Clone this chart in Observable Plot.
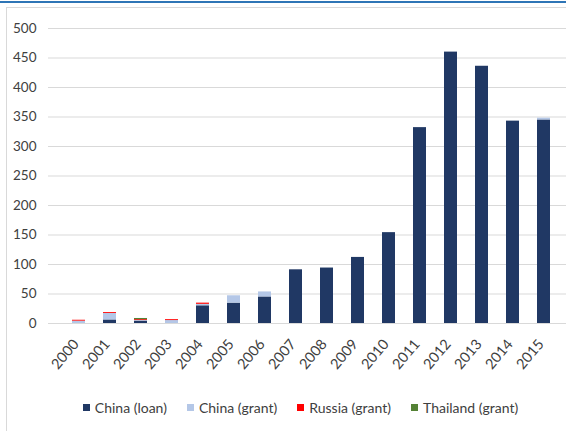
<!DOCTYPE html>
<html>
<head>
<meta charset="utf-8">
<script src="https://cdn.jsdelivr.net/npm/d3@7"></script>
<script src="https://cdn.jsdelivr.net/npm/@observablehq/plot@0.6"></script>
<style>
  html, body { margin: 0; padding: 0; background: #fff; }
  #wrap { position: relative; width: 566px; height: 431px; overflow: hidden; font-family: Lato, "Open Sans", sans-serif; }
  #topline { position: absolute; left: 0; top: 1px; width: 566px; height: 2px; background: #2e75b6; }
  #frame { position: absolute; left: 6px; top: 7px; width: 600px; height: 500px; border-left: 1px solid #d9d9d9; border-top: 1px solid #d9d9d9; }
  #chart { position: absolute; left: 0; top: 0; }
  #legend { position: absolute; left: 0; top: 399px; width: 601px; display: flex; justify-content: center; font-size: 14px; color: #404040; }
  .item { display: flex; align-items: center; margin: 0 10px; }
  .sw { width: 7px; height: 7px; margin-right: 5px; }
</style>
</head>
<body>
<div id="wrap">
  <div id="topline"></div>
  <div id="frame"></div>
  <div id="chart"></div>
  <div id="legend"></div>
</div>
<script>
// Annual financing by source (stacked), 2000–2015
const years = ["2000","2001","2002","2003","2004","2005","2006","2007","2008","2009","2010","2011","2012","2013","2014","2015"];
const series = ["China (loan)", "China (grant)", "Russia (grant)", "Thailand (grant)"];
const colors = ["#203864", "#b4c7e7", "#ff0000", "#548235"];

const chinaLoan     = [0, 6, 4, 0, 30, 34.5, 45, 91, 94, 112, 154, 332, 460, 436, 343, 345];
const chinaGrant    = [4, 11, 1, 5, 2.5, 12.5, 8.5, 0, 0, 0, 0, 0, 0, 0, 0, 3];
const russiaGrant   = [1.5, 1.5, 1.5, 1.5, 2, 0, 0, 0, 0, 0, 0, 0, 0, 0, 0, 0];
const thailandGrant = [0, 0, 2, 0, 0, 0, 0, 0, 0, 0, 0, 0, 0, 0, 0, 0];

const yTicks = [0, 50, 100, 150, 200, 250, 300, 350, 400, 450, 500];

const valuesBySeries = [chinaLoan, chinaGrant, russiaGrant, thailandGrant];
const rows = [];
series.forEach((s, i) => {
  years.forEach((y, j) => rows.push({year: y, series: s, value: valuesBySeries[i][j]}));
});

const chart = Plot.plot({
  width: 566,
  height: 392,
  marginLeft: 48,
  marginRight: 0,
  marginTop: 28,
  marginBottom: 69,
  style: { fontFamily: "Lato, 'Open Sans', sans-serif", fontSize: "13px", color: "#404040", background: "transparent" },
  x: { domain: years, range: [53, 570], padding: 0.58 },
  y: { domain: [0, 500] },
  color: { domain: series, range: colors },
  marks: [
    Plot.ruleY(yTicks, { stroke: "#d9d9d9", strokeWidth: 1 }),
    Plot.barY(rows, { x: "year", y: "value", fill: "series", order: series }),
    Plot.axisY({ ticks: yTicks, label: null, tickSize: 0, tickPadding: 12, fontSize: 13.5 }),
    Plot.axisX({ label: null, tickSize: 0, tickPadding: 18, tickRotate: -50, fontSize: 14.5, dx: -3 })
  ]
});
document.getElementById("chart").appendChild(chart);

// Legend below the plot
const legend = document.getElementById("legend");
series.forEach((s, i) => {
  const item = document.createElement("div");
  item.className = "item";
  const sw = document.createElement("span");
  sw.className = "sw";
  sw.style.background = colors[i];
  const label = document.createElement("span");
  label.textContent = s;
  item.appendChild(sw);
  item.appendChild(label);
  legend.appendChild(item);
});
</script>
</body>
</html>
